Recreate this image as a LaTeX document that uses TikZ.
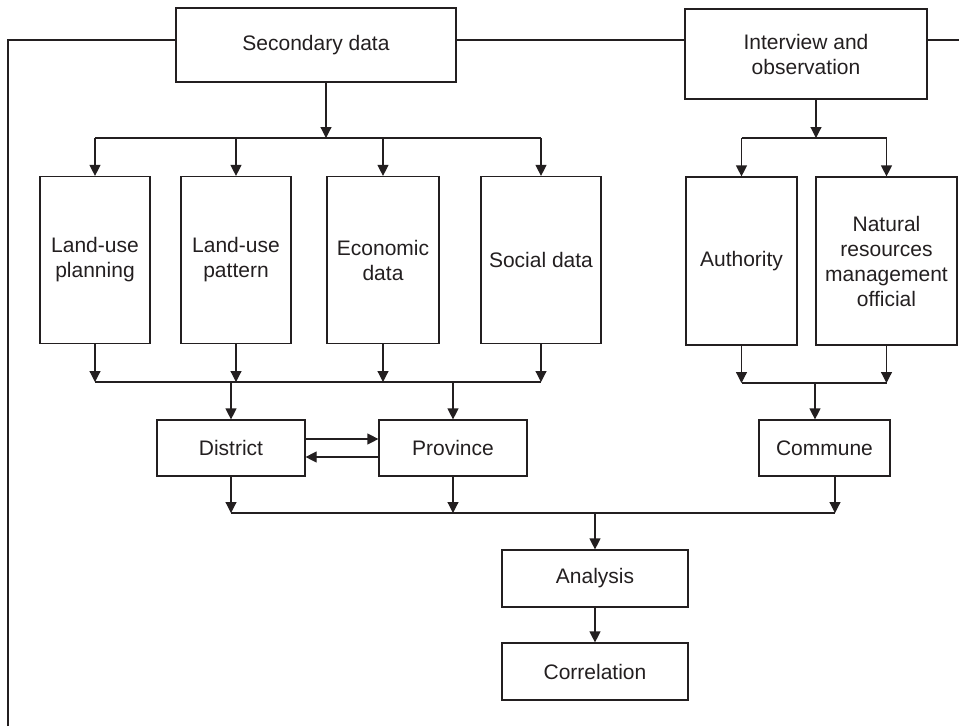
\documentclass[tikz,border=0pt]{standalone}
\usepackage{fontspec}
\setmainfont{Liberation Sans}
\usetikzlibrary{arrows.meta}
\definecolor{ink}{RGB}{35,31,32}
\begin{document}
\begin{tikzpicture}[x=1pt,y=-1pt,
  box/.style={draw=ink, text=ink, line width=1.2pt, inner sep=0pt, align=center,
              font=\fontsize{21}{25}\selectfont},
  link/.style={draw=ink, line width=1.2pt},
  arr/.style={link, -{Triangle[length=11pt,width=11pt]}}]
\useasboundingbox (0,0) rectangle (959,726);

% top boxes
\node[box, minimum width=280pt, minimum height=74pt] (sec) at (316,45) {Secondary data};
\node[box, minimum width=242pt, minimum height=90pt] (int) at (806,54) {Interview and\\observation};

% tall boxes
\node[box, minimum width=110pt, minimum height=167pt] (lup) at (95,260) {Land-use\\planning};
\node[box, minimum width=110pt, minimum height=167pt] (lupat) at (236,260) {Land-use\\pattern};
\node[box, minimum width=112pt, minimum height=167pt] (eco) at (383,260) {Economic\\data};
\node[box, minimum width=120pt, minimum height=167pt] (soc) at (541,260) {Social data};
\node[box, minimum width=111pt, minimum height=168pt] (auth) at (741.5,261) {Authority};
\node[box, minimum width=141pt, minimum height=168pt] (nat) at (886.5,261) {Natural\\resources\\management\\official};

% middle boxes
\node[box, minimum width=148pt, minimum height=56pt] (dis) at (231,448) {District};
\node[box, minimum width=148pt, minimum height=56pt] (pro) at (453,448) {Province};
\node[box, minimum width=131pt, minimum height=56pt] (com) at (824.5,448) {Commune};

% bottom boxes
\node[box, minimum width=186pt, minimum height=57pt] (ana) at (595,578.5) {Analysis};
\node[box, minimum width=186pt, minimum height=57pt] (cor) at (595,671.5) {Correlation};

% outer frame lines
\coordinate (cL) at (8,40);
\coordinate (cLB) at (8,726);
\coordinate (cR) at (959,40);
\draw[link] (cLB) -- (cL) -- (cL -| sec.west);
\draw[link] (sec.east |- cL) -- (cL -| int.west);
\draw[link] (int.east |- cL) -- (cR);

% secondary data branch
\coordinate (jS) at (326,138);
\draw[arr] (sec.south -| jS) -- (jS);
\draw[link] (lup.north |- jS) -- (soc.north |- jS);
\foreach \n in {lup,lupat,eco,soc} \draw[arr] (\n.north |- jS) -- (\n.north);

% merge to district / province
\coordinate (jM) at (0,382);
\draw[link] (lup.south |- jM) -- (soc.south |- jM);
\foreach \n in {lup,lupat,eco,soc} \draw[arr] (\n.south) -- (\n.south |- jM);
\draw[arr] (dis.north |- jM) -- (dis.north);
\draw[arr] (pro.north |- jM) -- (pro.north);

% district <-> province
\draw[arr] ([yshift=9pt]dis.east) -- ([yshift=9pt]dis.east -| pro.west);
\draw[arr] ([yshift=-9pt]pro.west) -- ([yshift=-9pt]pro.west -| dis.east);

% interview branch
\coordinate (jI) at (816,138);
\draw[arr] (int.south -| jI) -- (jI);
\draw[link] (auth.north |- jI) -- (nat.north |- jI);
\draw[arr] (auth.north |- jI) -- (auth.north);
\draw[arr] (nat.north |- jI) -- (nat.north);

% merge to commune
\coordinate (jC) at (815,383);
\draw[link] (auth.south |- jC) -- (nat.south |- jC);
\draw[arr] (auth.south) -- (auth.south |- jC);
\draw[arr] (nat.south) -- (nat.south |- jC);
\draw[arr] (jC) -- (com.north -| jC);

% bottom merge
\coordinate (jB) at (595,513);
\coordinate (jBR) at (835,513);
\draw[link] (dis.south |- jB) -- (jBR);
\draw[arr] (dis.south) -- (dis.south |- jB);
\draw[arr] (pro.south) -- (pro.south |- jB);
\draw[arr] (com.south -| jBR) -- (jBR);
\draw[arr] (jB) -- (ana.north);
\draw[arr] (ana.south) -- (cor.north);
\end{tikzpicture}
\end{document}
